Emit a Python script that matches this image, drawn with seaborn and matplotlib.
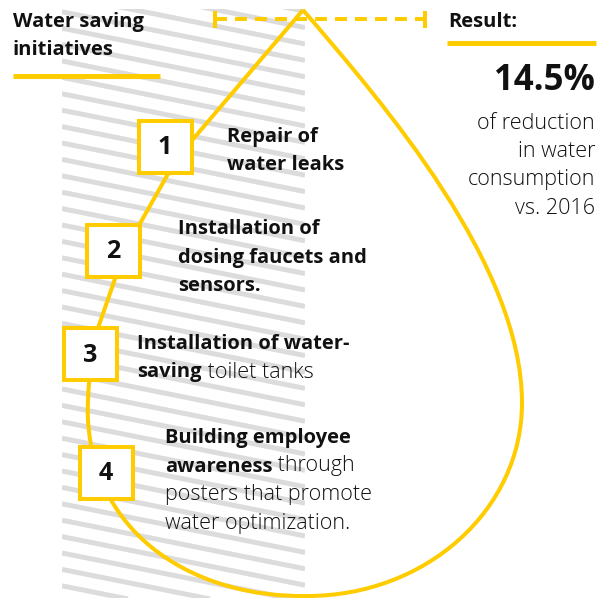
import numpy as np
import matplotlib.pyplot as plt
import seaborn as sns
from matplotlib.path import Path
from matplotlib.patches import PathPatch, Rectangle

# ==============================================================================
# DADOS
# ==============================================================================

title_lines = ["Water saving", "initiatives"]
result_label = "Result:"
result_value = 14.5
result_caption = ["of reduction", "in water", "consumption", "vs. 2016"]

step_numbers = ["1", "2", "3", "4"]
step_texts = [
    [[("Repair of", "bold")], [("water leaks", "bold")]],
    [[("Installation of", "bold")], [("dosing faucets and", "bold")], [("sensors.", "bold")]],
    [[("Installation of water-", "bold")], [("saving", "bold"), (" toilet tanks", "light")]],
    [[("Building employee", "bold")], [("awareness", "bold"), (" through", "light")],
     [("posters that promote", "light")], [("water optimization.", "light")]],
]

# layout (pixels)
box_centers = [(165, 147), (113, 251), (90, 354), (106, 473)]
text_anchor = [(227, 142), (178, 234), (137, 349), (165, 443)]

yellow = "#ffcc00"
gray = "#dcdcdc"
ink = "#111111"

# ==============================================================================
# FIGURA
# ==============================================================================

sns.set_theme(style="white")
plt.rcParams["font.family"] = ["Open Sans", "DejaVu Sans"]
plt.rcParams["lines.scale_dashes"] = False

fig = plt.figure(figsize=(5.99, 5.98), dpi=100)
ax = fig.add_axes([0, 0, 1, 1])
ax.set_xlim(0, 599)
ax.set_ylim(598, 0)
ax.axis("off")
renderer = fig.canvas.get_renderer()

# fundo listrado
clip = Rectangle((62, 9), 243, 589, transform=ax.transData)
slope = 0.2
spacing = 16.4
for y0 in np.arange(11.8 - spacing * 4, 600, spacing):
    ln, = ax.plot([62, 305], [y0, y0 + slope * 243], color=gray, lw=3.6,
                  solid_capstyle="butt", zorder=1)
    ln.set_clip_path(clip)

# gota
verts = [(303, 10), (385, 105), (522, 265), (522, 403),
         (522, 510), (426, 596), (307, 596),
         (200, 598), (95, 540), (88, 420),
         (86.5, 395), (92, 344), (98, 328),
         (125, 250), (177, 158), (303, 10)]
codes = [Path.MOVETO] + [Path.CURVE4] * 12 + [Path.LINETO] * 3
ax.add_patch(PathPatch(Path(verts, codes), fill=False, edgecolor=yellow, lw=2.9,
                       joinstyle="miter", zorder=3))

# linha tracejada
ax.plot([215, 425], [19, 19], color=yellow, lw=2.9, dashes=(8.6, 5.8),
        solid_capstyle="butt", dash_capstyle="butt", zorder=3)
for xc in [215, 425]:
    ax.plot([xc, xc], [11, 28], color=yellow, lw=2.9, solid_capstyle="butt", zorder=3)

# título
for i, line in enumerate(title_lines):
    ax.text(13, 27 + i * 28, line, fontsize=14.5, fontweight="bold", color=ink,
            va="baseline", ha="left", zorder=5)
ax.plot([13, 160], [75.5, 75.5], color=yellow, lw=3.6, solid_capstyle="butt")

# resultado
ax.text(448, 27, result_label, fontsize=14.5, fontweight="bold", color=ink,
        va="baseline", ha="left")
ax.plot([447, 596], [43, 43], color=yellow, lw=3.6, solid_capstyle="butt")
ax.text(595, 90, f"{result_value}%", fontsize=25, fontweight="bold", color=ink,
        va="baseline", ha="right")
for i, line in enumerate(result_caption):
    ax.text(595, 129 + i * 28.2, line, fontsize=15.5, fontweight="light", color=ink,
            va="baseline", ha="right")

# caixas numeradas
for (cx, cy), num in zip(box_centers, step_numbers):
    ax.add_patch(Rectangle((cx - 26.5, cy - 26), 53, 52, facecolor="white",
                           edgecolor=yellow, lw=2.9, zorder=4))
    ax.text(cx, cy + 1, num, fontsize=18, fontweight="bold", color=ink,
            ha="center", va="center", zorder=5)

# textos das etapas
sizes = {"bold": 14.5, "light": 15.5}
for (tx, ty), lines in zip(text_anchor, step_texts):
    for j, parts in enumerate(lines):
        x = tx
        y = ty + j * 28.5
        for txt, w in parts:
            t = ax.text(x, y, txt, fontsize=sizes[w], fontweight=w, color=ink,
                        va="baseline", ha="left", zorder=5)
            x += t.get_window_extent(renderer).width

fig.savefig("out.png", dpi=100, facecolor="white")
